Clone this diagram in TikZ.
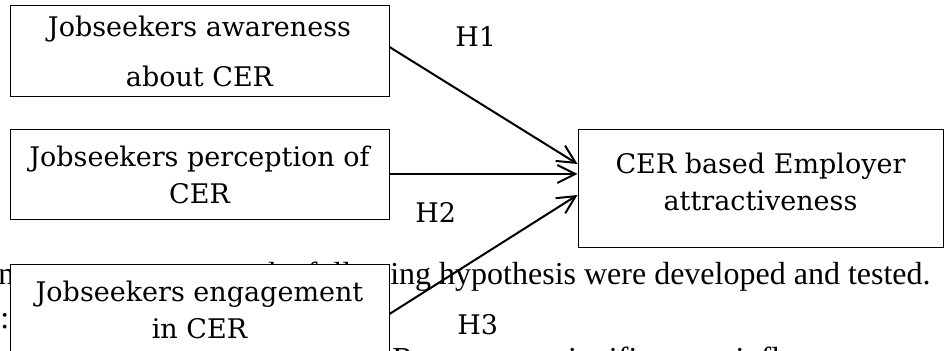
\documentclass[tikz,border=0pt]{standalone}
\usepackage{fontspec}
\setmainfont{DejaVu Serif}
\newfontfamily\bodyfont{Liberation Serif}
\usetikzlibrary{arrows.meta,positioning}

\begin{document}
\begin{tikzpicture}[x = 0.5pt, y = -0.5pt, >={Straight Barb[length = 9pt, width = 9pt]},
	box/.style = {draw, line width = 0.5pt, fill = white, align = center, inner sep = 0pt, minimum width = 189.5pt, minimum height = 45pt, font = \fontsize{13.5}{18.5}\selectfont},
	hyp/.style = {inner sep = 0pt, font = \fontsize{13.5}{16}\selectfont},
	bodytext/.style = {inner sep = 0pt, font = \bodyfont\fontsize{16}{19}\selectfont},
	link/.style = {->, line width = 1pt}]
	\useasboundingbox (0,0) rectangle (944,351);
	\clip (0,0) rectangle (944,351);

	% page text behind the figure
	\node[bodytext, anchor = base west](frag) at (-2,285){ne};
	\node[bodytext, anchor = base east](line1) at (931,285){the following hypothesis were developed and tested.};
	\node[bodytext, anchor = base west](colon) at (0,329){:};
	\node[bodytext, anchor = base west](line3) at (351,370){CER\hspace{71pt}significant\hspace{22.5pt}influence};

	\node[box, minimum height = 45.5pt](aware) at (199.5,51.5){Jobseekers awareness\\[6.5pt]about CER};
	\node[box](percep)[below = 16pt of aware]{Jobseekers perception of\\CER};
	\node[box](engage)[below = 22pt of percep]{Jobseekers engagement\\in CER};
	\node[box, minimum width = 182.5pt, minimum height = 59pt, text depth = 7pt](attract)[right = 94pt of percep, yshift = -7pt]{CER based Employer\\attractiveness};

	\node[hyp, anchor = base west](h1) at (455,47){H1};
	\node[hyp, anchor = base west](h2) at (415,223){H2};
	\node[hyp, anchor = base west](h3) at (457,335){H3};

	\draw[link]([yshift = 2.25pt]aware.east) -- ([yshift = 12.5pt]attract.west);
	\draw[link]([yshift = 0.5pt]percep.east) -- ([yshift = 7.5pt]attract.west);
	\draw[link]([yshift = -2pt]engage.east) -- ([yshift = -3pt]attract.west);
\end{tikzpicture}
\end{document}
